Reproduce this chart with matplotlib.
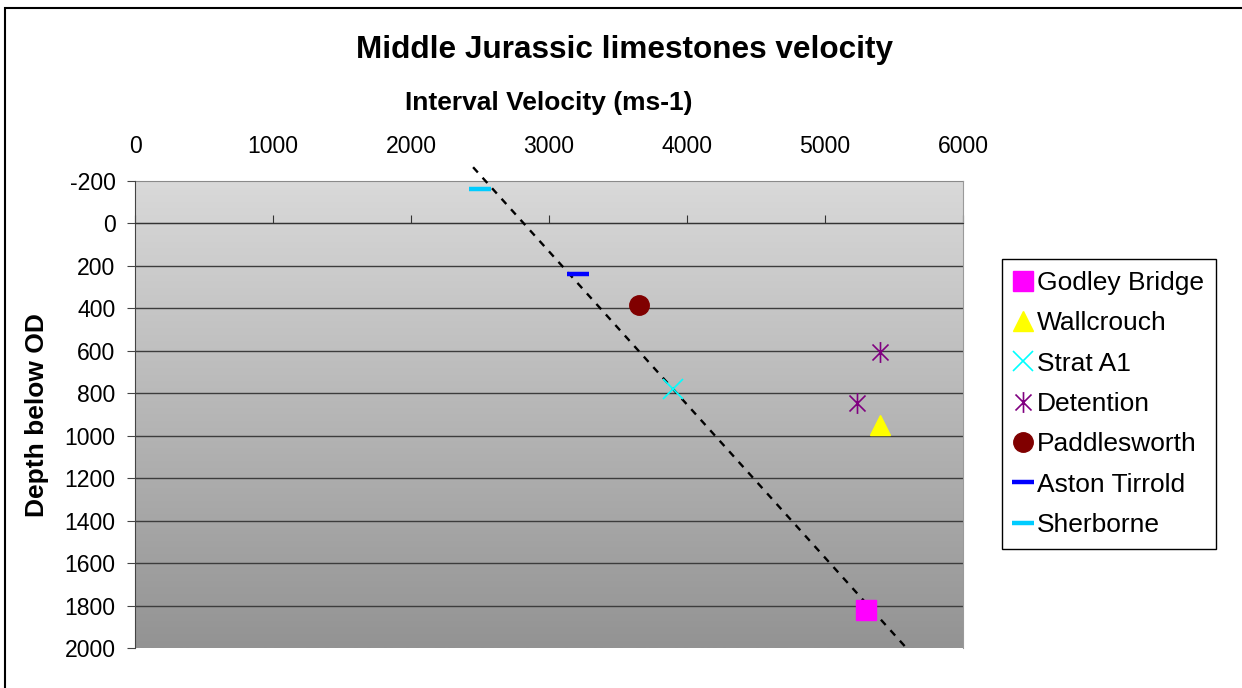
import numpy as np
import matplotlib
matplotlib.use("Agg")
import matplotlib.pyplot as plt
from matplotlib.path import Path
from matplotlib.patches import Rectangle

plt.rcParams['font.family'] = ['Liberation Sans', 'DejaVu Sans']

# interval velocity (m/s) and depth below OD (m) for each well
wells = ["Godley Bridge", "Wallcrouch", "Strat A1", "Detention",
         "Paddlesworth", "Aston Tirrold", "Sherborne"]
velocity = [[5300], [5400], [3900], [5400, 5230], [3650], [3210], [2500]]
depth = [[1820], [950], [780], [605, 845], [385], [240], [-160]]

# linear trend through the data
trend_velocity = [2450, 5590]
trend_depth = [-265, 2000]

velocity_ticks = [0, 1000, 2000, 3000, 4000, 5000, 6000]
depth_ticks = [-200, 0, 200, 400, 600, 800, 1000, 1200, 1400, 1600, 1800, 2000]

# asterisk marker: an x with a vertical stroke
asterisk = Path([(-1, -1), (1, 1), (-1, 1), (1, -1), (0, -1.3), (0, 1.3)],
                [Path.MOVETO, Path.LINETO, Path.MOVETO, Path.LINETO,
                 Path.MOVETO, Path.LINETO])

styles = [
    dict(marker='s', color='#FF00FF', ms=14),
    dict(marker='^', color='#FFFF00', ms=14),
    dict(marker='x', color='#00FFFF', ms=14, mew=1.2),
    dict(marker=asterisk, color='#800080', ms=15, mew=1.2, mfc='none'),
    dict(marker='o', color='#800000', ms=14),
    dict(marker='_', color='#0000FF', ms=16, mew=3.2),
    dict(marker='_', color='#00CCFF', ms=16, mew=3.2),
]

fig = plt.figure(figsize=(12.42, 6.88), dpi=100)
ax = fig.add_axes([135/1242, 40/688, 828/1242, 467/688])

# shaded plot area
grad = np.linspace(0, 1, 256).reshape(-1, 1)
ax.imshow(grad, cmap=matplotlib.colors.LinearSegmentedColormap.from_list(
    'bg', ['#d9d9d9', '#939393']), extent=[0, 6000, 2000, -200],
    aspect='auto', zorder=0)
ax.set_xlim(0, 6000)
ax.set_ylim(2000, -200)

ax.hlines(depth_ticks[1:-1], 0, 6000, color='#3c3c3c', lw=1.0, zorder=1)

for name, v, d, st in zip(wells, velocity, depth, styles):
    ax.plot(v, d, linestyle='none', label=name, zorder=4,
            marker=st['marker'], color=st['color'], ms=st['ms'],
            mew=st.get('mew', 1), mfc=st.get('mfc', st['color']),
            mec=st['color'])

ax.plot(trend_velocity, trend_depth, color='black', lw=1.7,
        linestyle=(0, (3, 3)), clip_on=False, zorder=3)

# velocity axis crosses at depth 0
ax.spines['bottom'].set_position(('data', 0))
ax.spines['bottom'].set_color('#333333')
ax.spines['top'].set_visible(False)
ax.spines['left'].set_color('#444444')
ax.spines['right'].set_color('#9a9a9a')
ax.set_xticks(velocity_ticks)
ax.tick_params(axis='x', direction='in', length=6, color='#333333',
               labelbottom=False)
ax.set_yticks(depth_ticks)
ax.set_yticklabels([str(t) for t in depth_ticks])
ax.tick_params(axis='y', direction='out', length=6, color='#444444',
               labelsize=16.6, pad=8)

sec = ax.secondary_xaxis('top')
sec.set_xticks(velocity_ticks)
sec.tick_params(length=0, pad=16.5, labelsize=16.6)
sec.spines['top'].set_color('#8a8a8a')

fig.text(625/1242, 1 - 50/688, 'Middle Jurassic limestones velocity',
         ha='center', va='center', fontsize=22.7, fontweight='bold')
fig.text(549/1242, 1 - 103/688, 'Interval Velocity (ms-1)',
         ha='center', va='center', fontsize=19, fontweight='bold')
fig.text(37/1242, 1 - 415/688, 'Depth below OD', rotation=90,
         ha='center', va='center', fontsize=19, fontweight='bold')

leg = ax.legend(loc='upper left', bbox_to_anchor=(1002/1242, 1 - 259/688),
                bbox_transform=fig.transFigure, borderaxespad=0,
                fontsize=19, frameon=True, fancybox=False, framealpha=1,
                edgecolor='black', handlelength=0.7, handletextpad=0.18,
                borderpad=0.45, labelspacing=0.62)
leg.get_frame().set_linewidth(1.0)

# outer chart border
fig.patches.append(Rectangle((5/1242, -0.05), 1.05, 1 - 8/688 + 0.05,
                             transform=fig.transFigure, fill=False,
                             edgecolor='black', lw=1.5))

fig.savefig('out.png', dpi=100)
